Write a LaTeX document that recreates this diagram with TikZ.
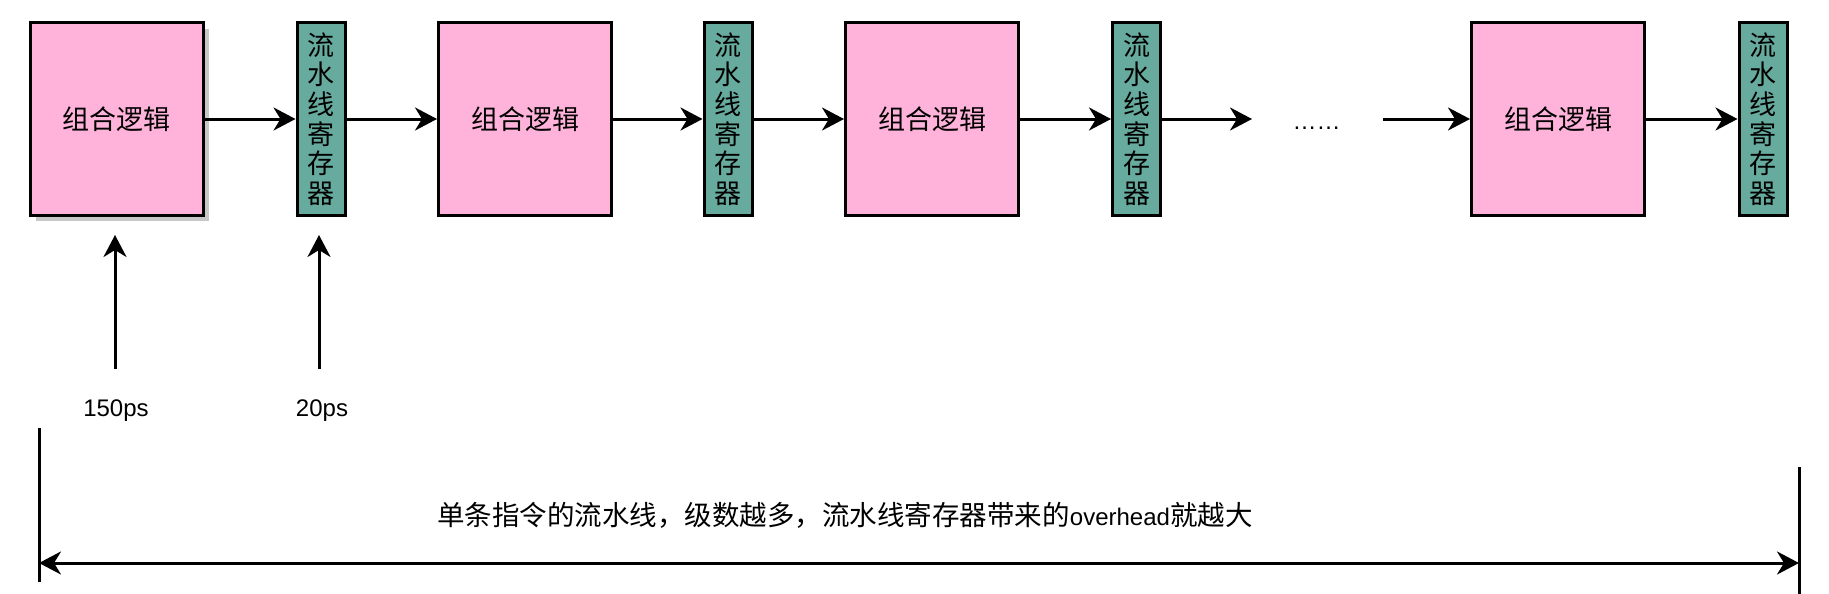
\documentclass[tikz,border=0pt]{standalone}
\usepackage{fontspec}
\setmainfont{Liberation Sans}
\newfontfamily\cjk{Noto Sans CJK SC}
\usetikzlibrary{arrows.meta,shadows}
\definecolor{pinkc}{RGB}{255,178,218}
\definecolor{tealc}{RGB}{103,171,159}
\begin{document}
\begin{tikzpicture}[x=1pt,y=-1pt,
  logic/.style={draw, line width=3pt, fill=pinkc, minimum width=173pt, minimum height=192pt, inner sep=0pt,
    font=\cjk\fontsize{27}{27}\selectfont},
  preg/.style={draw, line width=3pt, fill=tealc, minimum width=48pt, minimum height=192pt, inner sep=0pt,
    align=center, font=\cjk\fontsize{27}{29.7}\selectfont},
  conn/.style={line width=3pt, -{Stealth[length=22pt,width=23pt,inset=7pt]}},
  dim/.style={line width=3pt, {Stealth[length=22pt,width=23pt,inset=7pt]}-{Stealth[length=22pt,width=23pt,inset=7pt]}},
  bar/.style={line width=3pt},
  lbl/.style={font=\fontsize{24}{24}\selectfont, inner sep=0pt}
]
\useasboundingbox (0,0) rectangle (1829,594);
% stages
\node[logic, drop shadow={shadow xshift=6pt, shadow yshift=-6pt, fill=black!22, opacity=1}] (b1) at (116.5,119) {组合逻辑};
\node[preg] (r1) at (321,119) {流\\水\\线\\寄\\存\\器};
\node[logic] (b2) at (525,119) {组合逻辑};
\node[preg] (r2) at (728,119) {流\\水\\线\\寄\\存\\器};
\node[logic] (b3) at (932,119) {组合逻辑};
\node[preg] (r3) at (1136.5,119) {流\\水\\线\\寄\\存\\器};
\node[logic] (b4) at (1558,119) {组合逻辑};
\node[preg] (r4) at (1763,119) {流\\水\\线\\寄\\存\\器};
% dots
\node[lbl, anchor=base] (dots) at (1316.5,129.5) {……};
\coordinate (d1) at (1252,119);
\coordinate (d2) at (1383,119);
% connectors
\draw[conn] (b1) -- (r1);
\draw[conn] (r1) -- (b2);
\draw[conn] (b2) -- (r2);
\draw[conn] (r2) -- (b3);
\draw[conn] (b3) -- (r3);
\draw[conn] (r3.east) -- (d1);
\draw[conn] (d2) -- (b4.west);
\draw[conn] (b4) -- (r4);
% timing arrows
\coordinate (t1s) at (115,369);
\coordinate (t1e) at (115,235);
\coordinate (t2s) at (319,369);
\coordinate (t2e) at (319,235);
\draw[conn] (t1s) -- (t1e);
\draw[conn] (t2s) -- (t2e);
\node[lbl] (l1) at (116,411) {150ps};
\node[lbl] (l2) at (322,411) {20ps};
% dimension line
\coordinate (la) at (39,428);
\coordinate (lb) at (39,582);
\coordinate (ra) at (1799,467);
\coordinate (rb) at (1799,594);
\draw[bar] (la) -- (lb);
\draw[bar] (ra) -- (rb);
\coordinate (dl) at (39,563);
\coordinate (dr) at (1799,563);
\draw[dim] (dl) -- (dr);
\node[inner sep=0pt] (note) at (845,515) {{\cjk\fontsize{27.5}{27.5}\selectfont 单条指令的流水线，级数越多，流水线寄存器带来的}{\fontsize{24}{24}\selectfont overhead}{\cjk\fontsize{27.5}{27.5}\selectfont 就越大}};
\end{tikzpicture}
\end{document}
